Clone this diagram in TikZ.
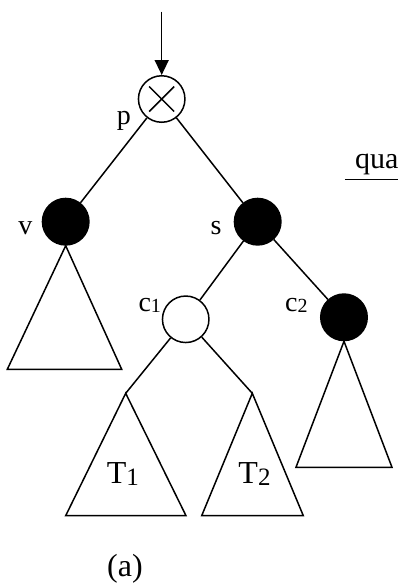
\documentclass[tikz,border=0pt]{standalone}
\usepackage{fontspec}
\setmainfont{Liberation Serif}
\usetikzlibrary{arrows.meta}

\newcommand{\lowidx}[3]{\raisebox{-#2}{\fontsize{#3}{#3}\selectfont #1}}

\begin{document}
\begin{tikzpicture}[
  >={Triangle[length=15pt,width=14pt]},
  vertex/.style={circle, draw, line width=1.5pt, minimum size=46.5pt, inner sep=0pt},
  blackv/.style={vertex, fill=black},
  whitev/.style={vertex, fill=white},
  edge/.style={line width=1.5pt},
  subtree/.style={line width=1.5pt, line join=miter},
  lab/.style={font=\fontsize{28}{28}\selectfont, inner sep=0pt},
  treelab/.style={font=\fontsize{32}{32}\selectfont, inner sep=0pt},
]
\useasboundingbox (0,0) rectangle (13.988,20.666);

%% ── Tree nodes ───────────────────────────────────────────────────────────────
\node[whitev] (p)  at (5.683,17.186) {};
\node[blackv] (v)  at (2.309,12.874) {};
\node[blackv] (s)  at (9.057,12.874) {};
\node[whitev] (c1) at (6.527,9.444)  {};
\node[blackv] (c2) at (12.090,9.514) {};

%% ── Cross in p ───────────────────────────────────────────────────────────────
\draw[edge] ([shift={(-12.5pt,12.5pt)}]p.center) -- ([shift={(12.5pt,-12.5pt)}]p.center);
\draw[edge] ([shift={(-12.5pt,-12.5pt)}]p.center) -- ([shift={(12.5pt,12.5pt)}]p.center);

%% ── Labels ───────────────────────────────────────────────────────────────────
\node[lab, anchor=base]      (plab)  at (4.358,16.273) {p};
\node[lab, anchor=base]      (vlab)  at (0.896,12.431) {v};
\node[lab, anchor=base]      (slab)  at (7.592,12.407) {s};
\node[lab, anchor=base west] (c1lab) at (4.861,9.711)  {c\lowidx{1}{1pt}{20}};
\node[lab, anchor=base west] (c2lab) at (10.017,9.735) {c\lowidx{2}{1pt}{20}};

%% ── Edges ────────────────────────────────────────────────────────────────────
\coordinate (in) at (5.683,20.255);
\coordinate (t1top) at (4.418,6.843);
\coordinate (t2top) at (8.867,6.843);
\draw[->, edge] (in) -- (p);
\draw[edge] (p)  -- (v);
\draw[edge] (p)  -- (s);
\draw[edge] (s)  -- (c1);
\draw[edge] (s)  -- (c2);
\draw[edge] (c1) -- (t1top);
\draw[edge] (c1) -- (t2top);

%% ── Subtrees ─────────────────────────────────────────────────────────────────
\draw[subtree] (v.south) -- (0.257,7.686) -- (4.277,7.686) -- cycle;
\draw[subtree] (t1top) -- (2.309,2.541) -- (6.537,2.541) -- cycle;
\draw[subtree] (t2top) -- (7.089,2.541) -- (10.660,2.541) -- cycle;
\draw[subtree] (c2.south) -- (10.403,4.242) -- (13.777,4.242) -- cycle;
\node[treelab, anchor=base west] (t1lab) at (3.750,3.680) {T\lowidx{1}{2.7pt}{25}};
\node[treelab, anchor=base west] (t2lab) at (8.375,3.680) {T\lowidx{2}{2.7pt}{25}};

%% ── Caption and cut-off text ─────────────────────────────────────────────────
\node[treelab, anchor=base west] (cap) at (3.761,0.397) {(a)};
\node[lab, font=\fontsize{30}{30}\selectfont, anchor=base west] (qua) at (12.477,14.751) {qua};
\coordinate (ul) at (12.125,14.364);
\coordinate (ur) at (13.988,14.364);
\draw[edge] (ul) -- (ur);

\end{tikzpicture}
\end{document}
